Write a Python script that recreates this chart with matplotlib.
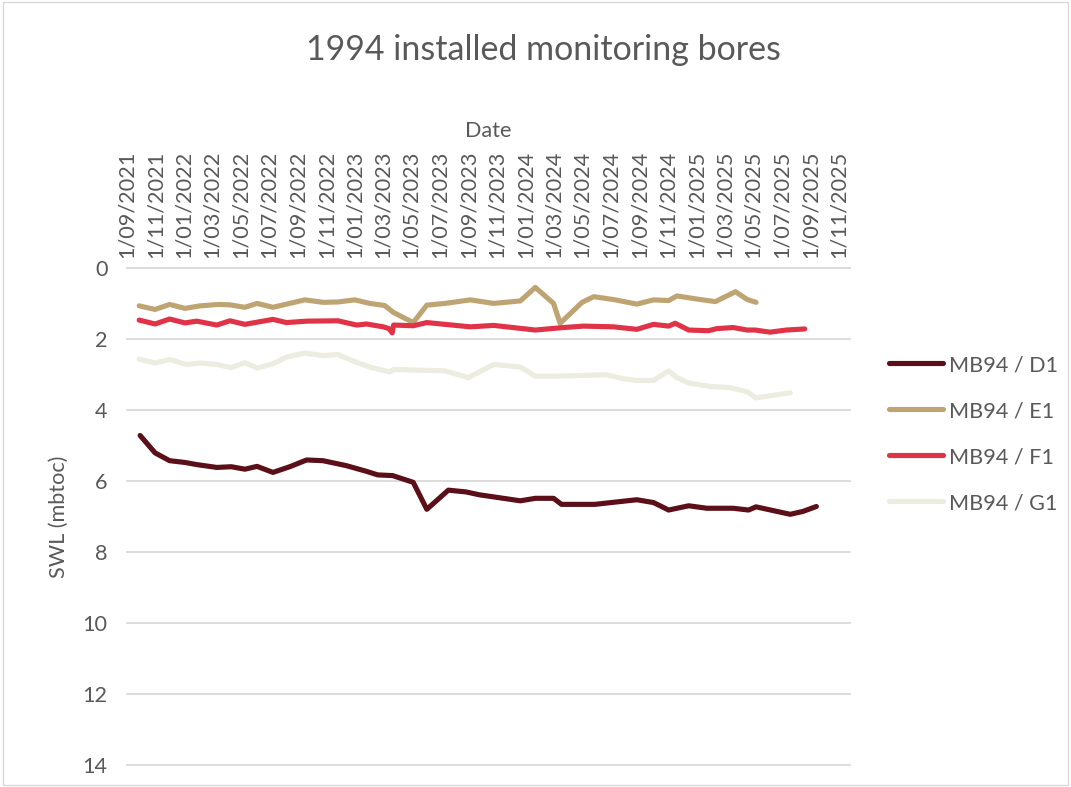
import pandas as pd
import numpy as np
import matplotlib
matplotlib.use("Agg")
import matplotlib.pyplot as plt
import matplotlib.dates as mdates
from matplotlib.patches import Rectangle
from matplotlib.ticker import FuncFormatter

plt.rcParams['font.family'] = ['Lato', 'DejaVu Sans']

# Standing water level (m below top of casing) per bore
d1_dates = ['2021-09-29', '2021-10-31', '2021-12-01', '2022-01-03', '2022-01-28', '2022-03-12',
            '2022-04-12', '2022-05-11', '2022-06-06', '2022-07-10', '2022-08-15', '2022-09-20',
            '2022-10-25', '2022-12-14', '2023-01-26', '2023-02-19', '2023-03-23', '2023-05-06',
            '2023-06-04', '2023-07-20', '2023-08-27', '2023-09-24', '2023-12-21', '2024-01-22',
            '2024-03-01', '2024-03-18', '2024-05-28', '2024-08-26', '2024-10-01', '2024-11-02',
            '2024-12-15', '2025-01-23', '2025-03-20', '2025-04-22', '2025-05-08', '2025-07-20',
            '2025-08-16', '2025-09-14']
d1_swl = [4.72, 5.21, 5.43, 5.48, 5.54, 5.62, 5.60, 5.67, 5.59, 5.76, 5.60, 5.41,
          5.43, 5.57, 5.73, 5.83, 5.85, 6.04, 6.80, 6.26, 6.31, 6.39, 6.56, 6.49,
          6.49, 6.66, 6.66, 6.53, 6.61, 6.82, 6.70, 6.77, 6.77, 6.82, 6.73, 6.94,
          6.86, 6.72]

e1_dates = ['2021-09-27', '2021-10-31', '2021-12-01', '2022-01-03', '2022-02-04', '2022-03-15',
            '2022-04-09', '2022-05-11', '2022-06-06', '2022-07-10', '2022-08-15', '2022-09-16',
            '2022-10-25', '2022-11-26', '2023-01-01', '2023-02-02', '2023-03-06', '2023-03-24',
            '2023-05-06', '2023-06-04', '2023-07-13', '2023-09-05', '2023-10-25', '2023-12-21',
            '2024-01-22', '2024-03-01', '2024-03-15', '2024-05-01', '2024-05-26', '2024-07-11',
            '2024-08-26', '2024-10-01', '2024-11-02', '2024-11-20', '2024-12-29', '2025-02-10',
            '2025-03-25', '2025-04-19', '2025-05-08']
e1_swl = [1.07, 1.17, 1.03, 1.14, 1.07, 1.03, 1.04, 1.11, 1.00, 1.11, 1.00, 0.90,
          0.97, 0.96, 0.90, 1.00, 1.06, 1.25, 1.54, 1.05, 1.00, 0.90, 1.00, 0.93,
          0.55, 1.00, 1.56, 0.97, 0.81, 0.90, 1.02, 0.90, 0.92, 0.79, 0.87, 0.95,
          0.67, 0.89, 0.97]

f1_dates = ['2021-09-27', '2021-10-31', '2021-12-01', '2022-01-03', '2022-01-28', '2022-03-12',
            '2022-04-09', '2022-05-11', '2022-07-10', '2022-08-08', '2022-09-20', '2022-11-26',
            '2023-01-05', '2023-01-26', '2023-03-03', '2023-03-15', '2023-03-22', '2023-03-25',
            '2023-05-06', '2023-06-04', '2023-09-05', '2023-10-25', '2024-01-22', '2024-03-22',
            '2024-05-04', '2024-07-07', '2024-08-26', '2024-10-01', '2024-11-02', '2024-11-16',
            '2024-12-15', '2025-01-26', '2025-02-13', '2025-03-20', '2025-04-19', '2025-05-06',
            '2025-06-07', '2025-07-12', '2025-08-20']
f1_swl = [1.47, 1.58, 1.44, 1.55, 1.50, 1.61, 1.49, 1.59, 1.45, 1.54, 1.50, 1.49,
          1.61, 1.58, 1.66, 1.71, 1.83, 1.61, 1.63, 1.54, 1.66, 1.62, 1.75, 1.68,
          1.64, 1.66, 1.73, 1.59, 1.64, 1.56, 1.75, 1.77, 1.71, 1.68, 1.75, 1.75,
          1.81, 1.75, 1.72]

g1_dates = ['2021-09-27', '2021-10-31', '2021-12-01', '2022-01-06', '2022-02-04', '2022-03-12',
            '2022-04-12', '2022-05-11', '2022-06-06', '2022-07-10', '2022-08-08', '2022-09-16',
            '2022-10-25', '2022-11-26', '2023-01-05', '2023-02-02', '2023-03-16', '2023-03-25',
            '2023-05-20', '2023-07-13', '2023-09-01', '2023-10-25', '2023-12-21', '2024-01-22',
            '2024-03-08', '2024-06-22', '2024-07-27', '2024-08-26', '2024-10-01', '2024-11-02',
            '2024-11-20', '2024-12-15', '2025-01-30', '2025-03-13', '2025-04-19', '2025-05-08',
            '2025-07-20']
g1_swl = [2.57, 2.68, 2.58, 2.72, 2.68, 2.72, 2.81, 2.67, 2.82, 2.70, 2.51, 2.40,
          2.47, 2.44, 2.66, 2.79, 2.93, 2.86, 2.88, 2.90, 3.09, 2.72, 2.79, 3.05,
          3.05, 3.01, 3.12, 3.17, 3.17, 2.90, 3.09, 3.24, 3.34, 3.37, 3.49, 3.66,
          3.52]

bores = ['MB94 / D1', 'MB94 / E1', 'MB94 / F1', 'MB94 / G1']
colors = ['#5B0F18', '#BFA473', '#E03348', '#ECECE0']

series = [(d1_dates, d1_swl), (e1_dates, e1_swl), (f1_dates, f1_swl), (g1_dates, g1_swl)]

fig = plt.figure(figsize=(10.71, 7.87), dpi=100)
ax = fig.add_axes([0.1186, 0.028, 0.6751, 0.6316])

for (dates, swl), name, c in zip(series, bores, colors):
    ax.plot(pd.to_datetime(dates), swl, color=c, lw=3.7, label=name,
            solid_joinstyle='round', solid_capstyle='round')

grey = '#595959'
ax.set_ylim(14, 0)
ax.set_yticks(np.arange(0, 15, 2))
ax.set_xlim(pd.Timestamp('2021-09-01'), pd.Timestamp('2025-11-25'))
ax.xaxis.set_major_locator(mdates.MonthLocator(bymonth=[1, 3, 5, 7, 9, 11]))
ax.xaxis.set_major_formatter(FuncFormatter(
    lambda x, _: (lambda d: f"{d.day}/{d.month:02d}/{d.year}")(mdates.num2date(x))))
ax.xaxis.tick_top()
ax.xaxis.set_label_position('top')
ax.tick_params(axis='x', length=0, pad=7, labelrotation=90, labelsize=15.6, labelcolor=grey)
ax.tick_params(axis='y', length=0, pad=14, labelsize=15.6, labelcolor=grey)

ax.grid(axis='y', color='#D9D9D9', lw=1.3)
for gl in ax.get_ygridlines():
    gl.set_clip_on(False)
ax.set_axisbelow(True)
for s in ax.spines.values():
    s.set_visible(False)

ax.set_xlabel('Date', fontsize=15.6, color=grey, labelpad=10)
ax.set_ylabel('SWL (mbtoc)', fontsize=15.6, color=grey, labelpad=10)

fig.text(0.507, 0.937, '1994 installed monitoring bores', ha='center', va='center',
         fontsize=24.5, color=grey)

ax.legend(loc='center left', bbox_to_anchor=(0.830, 1 - 434 / 787),
          bbox_transform=fig.transFigure, frameon=False, fontsize=15.6,
          handlelength=2.5, handletextpad=0.25, labelspacing=1.2,
          borderpad=0, borderaxespad=0, labelcolor=grey)

fig.patches.append(Rectangle((0.003, 0.003), 0.994, 0.994, transform=fig.transFigure,
                             fill=False, edgecolor='#D9D9D9', lw=1))

fig.savefig('out.png', dpi=100)
